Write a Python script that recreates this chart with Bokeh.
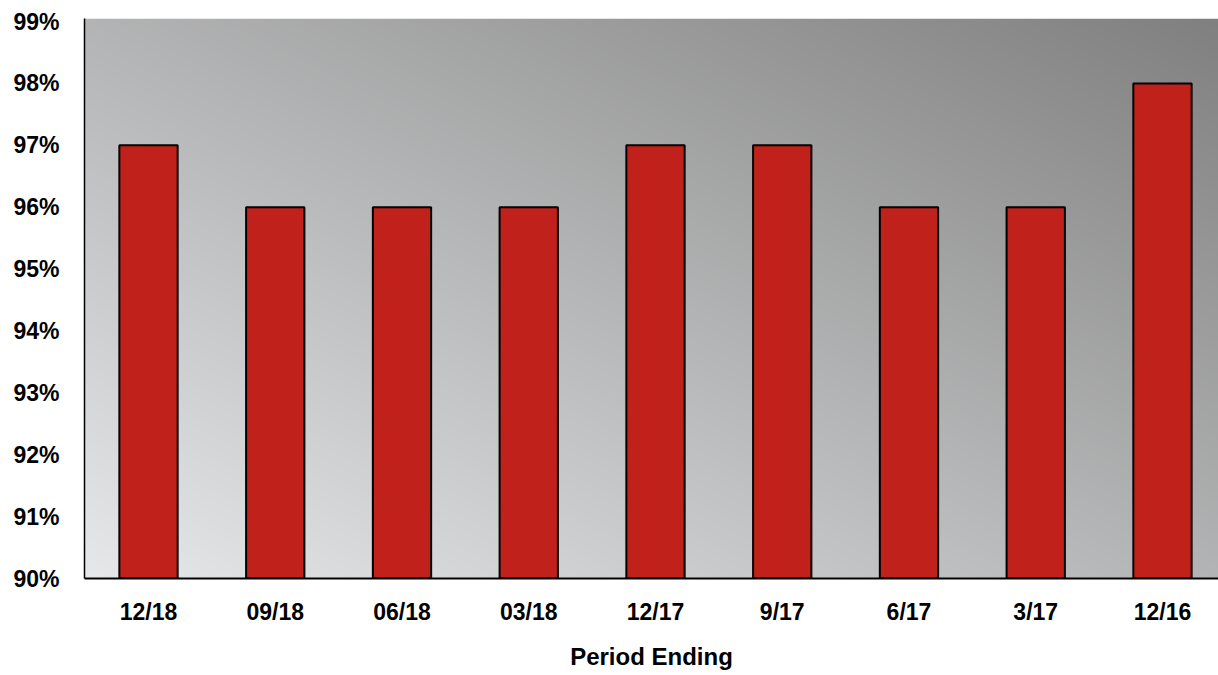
import numpy as np
from bokeh.plotting import figure
from bokeh.models import Range1d, FixedTicker, ColumnDataSource
from bokeh.embed import file_html
from bokeh.resources import INLINE

# ---- data ----
periods = ["12/18", "09/18", "06/18", "03/18", "12/17", "9/17", "6/17", "3/17", "12/16"]
rates = [97, 96, 96, 96, 97, 97, 96, 96, 98]
y_ticks = [90, 91, 92, 93, 94, 95, 96, 97, 98, 99]
y_tick_labels = ["90%", "91%", "92%", "93%", "94%", "95%", "96%", "97%", "98%", "99%"]
x_title = "Period Ending"

FONT = "Liberation Sans"
FS = "23px"
Y0, Y1 = 90, 99.05

# category slots: one unit per period; the reference's plot area is cropped on the right
slot = list(range(len(periods)))
X0 = -0.505
X1 = X0 + 8.947

p = figure(
    width=1218, height=675,
    x_range=Range1d(X0, X1),
    y_range=Range1d(Y0, Y1),
    output_backend="svg", toolbar_location=None,
    min_border_left=84, min_border_right=0, min_border_top=18, min_border_bottom=97,
)
p.outline_line_color = None
p.background_fill_color = "white"
p.border_fill_color = "white"
p.xgrid.visible = False
p.ygrid.visible = False

# gradient background (light bottom-left -> dark top-right), spans the whole frame
ny, nx = 300, 600
xn = np.linspace(0, 1, nx)[None, :]
yn = np.linspace(0, 1, ny)[:, None]
t = np.clip((xn + yn) / 2.0, 0, 1)
light = np.array([231, 232, 234], dtype=float)
dark = np.array([128, 128, 128], dtype=float)
rgb = light[None, None, :] * (1 - t[..., None]) + dark[None, None, :] * t[..., None]
img = np.empty((ny, nx), dtype=np.uint32)
view = img.view(dtype=np.uint8).reshape((ny, nx, 4))
view[..., 0] = rgb[..., 0].astype(np.uint8)
view[..., 1] = rgb[..., 1].astype(np.uint8)
view[..., 2] = rgb[..., 2].astype(np.uint8)
view[..., 3] = 255
p.image_rgba(image=[img], x=X0, y=Y0, dw=X1 - X0, dh=Y1 - Y0)

src = ColumnDataSource(dict(slot=slot, period=periods, rate=rates))
p.vbar(x="slot", top="rate", bottom=Y0, width=0.46, source=src,
       fill_color="#c0211a", line_color="black", line_width=2)

# axes
p.xaxis.ticker = FixedTicker(ticks=slot)
p.xaxis.major_label_overrides = {i: s for i, s in zip(slot, periods)}
p.yaxis.ticker = FixedTicker(ticks=y_ticks)
p.yaxis.major_label_overrides = {v: s for v, s in zip(y_ticks, y_tick_labels)}
for ax in (p.xaxis, p.yaxis):
    ax.major_tick_line_color = None
    ax.minor_tick_line_color = None
    ax.major_tick_in = 0
    ax.major_tick_out = 0
    ax.axis_line_color = "black"
    ax.major_label_text_font = FONT
    ax.major_label_text_font_style = "bold"
    ax.major_label_text_font_size = FS
    ax.major_label_text_color = "black"
p.yaxis.axis_line_width = 1.5
p.xaxis.axis_line_width = 2
p.yaxis.major_label_standoff = 25
p.xaxis.major_label_standoff = 20
p.xaxis.axis_label = x_title
p.xaxis.axis_label_text_font = FONT
p.xaxis.axis_label_text_font_style = "bold"
p.xaxis.axis_label_text_font_size = "24px"
p.xaxis.axis_label_text_color = "black"
p.xaxis.axis_label_standoff = 15

open("out.html", "w").write(file_html(p, INLINE))
